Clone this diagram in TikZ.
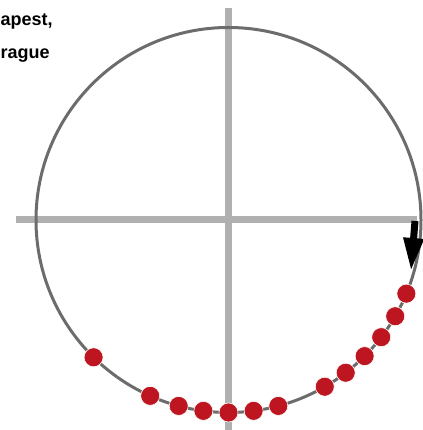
\documentclass[tikz,border=0pt]{standalone}
\usepackage{fontspec}
\setmainfont{Liberation Sans}
\usepackage{xcolor}
\usetikzlibrary{arrows.meta,calc}

\definecolor{axisgray}{RGB}{176,176,176}
\definecolor{ringgray}{RGB}{108,108,108}
\definecolor{dotred}{RGB}{190,22,32}

\begin{document}
\begin{tikzpicture}[
    x=1pt, y=1pt,
    axis/.style={draw=axisgray, line width=7pt},
    ring/.style={draw=ringgray, line width=3pt},
    dot/.style={circle, fill=dotred, draw=white, line width=0.6pt, minimum size=19pt, inner sep=0pt},
    label/.style={font=\fontsize{18}{21}\selectfont\bfseries, inner sep=0pt, anchor=base west},
    turn/.style={line width=7pt, -{Triangle[length=33pt, width=19pt]}}
]
    \useasboundingbox (0,0) rectangle (422,430);
    \coordinate (c) at (228.5,210);
    % axes
    \coordinate (xl) at (16,210);
    \coordinate (xr) at (417,210);
    \coordinate (yt) at (228.5,422);
    \coordinate (yb) at (228.5,0);
    \draw[axis] (xl) -- (xr);
    \draw[axis] (yt) -- (yb);
    \draw[ring] (c) circle (192.5);
    % arrow at the start of the ring
    \coordinate (as) at (415,209);
    \coordinate (ae) at (411,159);
    \draw[turn] (as) -- (ae);
    % points on the ring
    \foreach \a [count=\i] in {225.5,246,255,262.5,270,277.5,285,300,307.5,315,322.5,330,337.5}
        \node[dot] (p\i) at ($(c)+(\a:192.5)$) {};
    \node[label] (l1) at (0.5,404.5) {apest,};
    \node[label] (l2) at (0.5,371) {rague};
\end{tikzpicture}
\end{document}
